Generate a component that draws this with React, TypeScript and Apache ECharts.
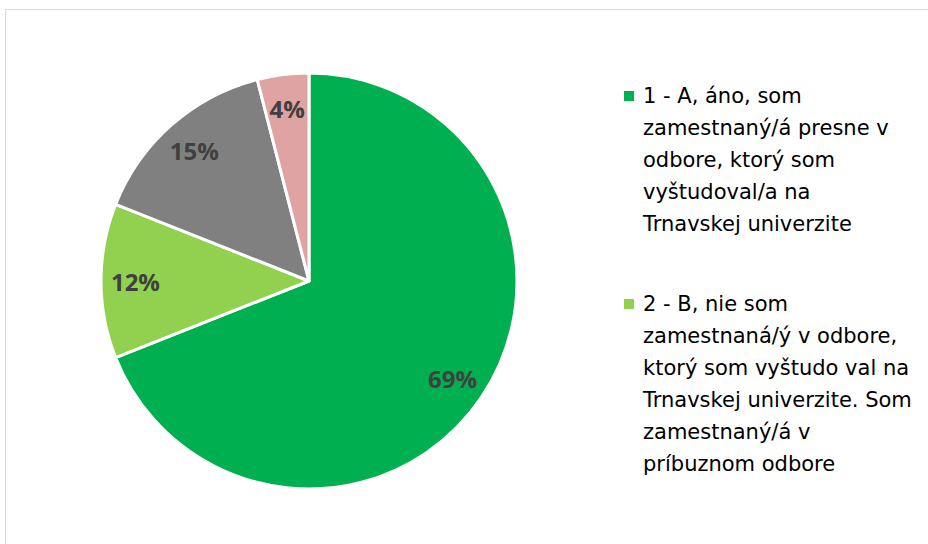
import React, { useEffect, useRef } from "react";
import * as echarts from "echarts";

const categoryLines: string[][] = [
  ["1 - A, áno, som", "zamestnaný/á presne v", "odbore, ktorý som", "vyštudoval/a na", "Trnavskej univerzite"],
  ["2 - B, nie som", "zamestnaná/ý v odbore,", "ktorý som vyštudo val na", "Trnavskej univerzite. Som", "zamestnaný/á v", "príbuznom odbore"],
  ["3 - C"],
  ["4 - D"],
];
const categories = categoryLines.map((l) => l.join(" "));
const values = [69, 12, 15, 4];
const colors = ["#00B050", "#92D050", "#808080", "#DFA3A3"];
const legendShown = categories.slice(0, 2);

const LEGEND_FONT = "DejaVu Sans";
const LABEL_FONT = "Open Sans";

export default function App() {
  const ref = useRef<HTMLDivElement>(null);
  useEffect(() => {
    if (!ref.current) return;
    const chart = echarts.init(ref.current, null, { renderer: "svg" });
    const R = 208;
    const rich: any = {
      t: { fontFamily: LEGEND_FONT, fontSize: 21, color: "#000000", lineHeight: 32 },
      g: { width: 9, height: 10, lineHeight: 32 },
      s: { width: 19, height: 10, lineHeight: 32 },
    };
    colors.forEach((c, i) => {
      rich["m" + i] = { width: 10, height: 10, backgroundColor: c, lineHeight: 32 };
    });
    const data = categories.map((name, i) => ({ name, value: values[i], itemStyle: { color: colors[i] } }));
    chart.setOption({
      animation: false,
      graphic: [
        {
          type: "rect",
          shape: { x: 5.5, y: 9.5, width: 1000, height: 600 },
          style: { fill: "none", stroke: "#D9D9D9", lineWidth: 1 },
          silent: true,
        },
      ],
      legend: {
        orient: "vertical",
        left: 618,
        top: 80,
        padding: 0,
        itemWidth: 0,
        itemHeight: 0,
        itemGap: 48,
        selectedMode: false,
        data: legendShown,
        formatter: (name: string) => {
          const idx = categories.indexOf(name);
          return categoryLines[idx]
            .map((line, j) => (j === 0 ? `{m${idx}|}{g|}{t|${line}}` : `{s|}{t|${line}}`))
            .join("\n");
        },
        textStyle: { rich, lineHeight: 32, fontFamily: LEGEND_FONT, fontSize: 21 },
      },
      series: [
        {
          type: "pie",
          center: [309, 281],
          radius: [0, R],
          startAngle: 90,
          clockwise: true,
          label: { show: false },
          labelLine: { show: false },
          itemStyle: { borderColor: "#FFFFFF", borderWidth: 3 },
          emphasis: { disabled: true },
          data,
        },
        {
          type: "pie",
          center: [309, 281],
          radius: [R * 0.64, R],
          startAngle: 90,
          clockwise: true,
          silent: true,
          itemStyle: { color: "transparent", borderWidth: 0 },
          label: {
            show: true,
            position: "inside",
            formatter: (p: any) => `${p.value}%`,
            fontFamily: LABEL_FONT,
            fontWeight: "bold",
            fontSize: 24,
            color: "#404040",
          },
          labelLine: { show: false },
          emphasis: { disabled: true },
          data: categories.map((name, i) => ({ name, value: values[i] })),
        },
      ],
    });
    return () => chart.dispose();
  }, []);
  return (
    <div
      ref={ref}
      style={{ position: "fixed", left: 0, top: 0, width: 928, height: 544, background: "#FFFFFF" }}
    />
  );
}
